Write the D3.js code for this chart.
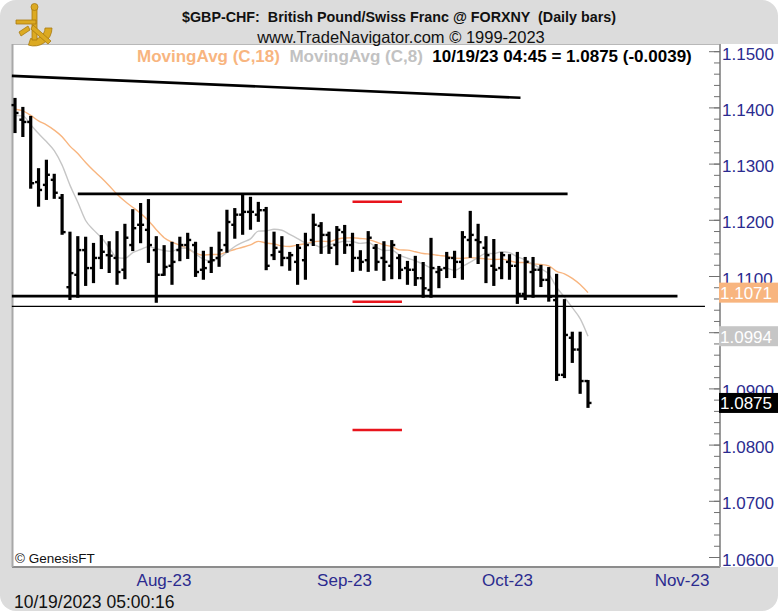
<!DOCTYPE html>
<html lang="en">
<head>
  <meta charset="UTF-8">
  <title>GBP-CHF Daily bars</title>
  <style>
    body, html { margin: 0; padding: 0; background: #fff; }
    svg { display: block; font-family: "Liberation Sans", Arial, sans-serif; }
  </style>
</head>
<body>
  <svg id="svg" width="780" height="611"></svg>

  <script src="https://cdn.jsdelivr.net/npm/d3@7"></script>
  <script>
    // daily OHLC, first bar is 2023-07-10
    const firstDay = new Date(2023, 6, 10)
    const opens = [1.1405,1.1379,1.1375,1.1268,1.1263,1.1272,1.1240,1.1081,1.1103,1.1147,
      1.1115,1.1133,1.1138,1.1133,1.1112,1.1156,1.1192,1.1183,1.1147,1.1103,
      1.1119,1.1147,1.1156,1.1156,1.1112,1.1126,1.1133,1.1156,1.1192,1.1210,
      1.1215,1.1210,1.1218,1.1138,1.1144,1.1133,1.1126,1.1129,1.1165,1.1190,
      1.1174,1.1156,1.1179,1.1156,1.1133,1.1129,1.1151,1.1133,1.1119,1.1133,
      1.1115,1.1112,1.1097,1.1076,1.1108,1.1115,1.1133,1.1126,1.1165,1.1165,
      1.1151,1.1119,1.1115,1.1126,1.1119,1.1069,1.1108,1.1112,1.1094,1.1058,
      1.0925,1.0991,1.0970,1.0914]
    const highs = [1.1416,1.1400,1.1384,1.1291,1.1306,1.1281,1.1245,1.1178,1.1170,1.1169,
      1.1158,1.1172,1.1161,1.1179,1.1192,1.1218,1.1229,1.1236,1.1170,1.1154,
      1.1160,1.1169,1.1176,1.1160,1.1144,1.1151,1.1178,1.1217,1.1220,1.1245,
      1.1240,1.1231,1.1222,1.1178,1.1170,1.1142,1.1156,1.1176,1.1210,1.1195,
      1.1178,1.1188,1.1190,1.1176,1.1145,1.1179,1.1156,1.1161,1.1163,1.1138,
      1.1126,1.1135,1.1124,1.1167,1.1117,1.1142,1.1144,1.1179,1.1215,1.1192,
      1.1170,1.1165,1.1142,1.1138,1.1142,1.1133,1.1133,1.1119,1.1115,1.1103,
      1.1058,1.1000,1.1000,1.0914]
    const lows = [1.1357,1.1350,1.1258,1.1226,1.1238,1.1240,1.1176,1.1060,1.1064,1.1085,
      1.1090,1.1115,1.1108,1.1087,1.1097,1.1147,1.1161,1.1126,1.1055,1.1103,
      1.1087,1.1129,1.1133,1.1101,1.1096,1.1108,1.1119,1.1144,1.1169,1.1176,
      1.1185,1.1199,1.1113,1.1131,1.1120,1.1112,1.1087,1.1096,1.1156,1.1142,
      1.1142,1.1122,1.1142,1.1110,1.1112,1.1110,1.1112,1.1094,1.1097,1.1097,
      1.1087,1.1085,1.1064,1.1064,1.1081,1.1099,1.1099,1.1096,1.1135,1.1124,
      1.1090,1.1085,1.1097,1.1096,1.1053,1.1060,1.1064,1.1083,1.1057,1.0916,
      1.0921,1.0948,1.0893,1.0868]
    const closes = [1.1391,1.1375,1.1266,1.1254,1.1281,1.1249,1.1179,1.1106,1.1147,1.1115,
      1.1133,1.1144,1.1137,1.1108,1.1169,1.1186,1.1192,1.1156,1.1103,1.1117,
      1.1126,1.1156,1.1165,1.1108,1.1115,1.1129,1.1147,1.1197,1.1210,1.1215,
      1.1215,1.1218,1.1119,1.1151,1.1133,1.1138,1.1151,1.1156,1.1192,1.1174,
      1.1151,1.1183,1.1156,1.1133,1.1126,1.1169,1.1126,1.1126,1.1156,1.1112,
      1.1112,1.1097,1.1079,1.1115,1.1112,1.1133,1.1126,1.1170,1.1174,1.1161,
      1.1138,1.1112,1.1138,1.1119,1.1069,1.1126,1.1112,1.1094,1.1064,1.0925,
      1.0996,1.0970,1.0914,1.0875]
    // closes before the first visible bar (only feed the moving averages)
    const priorCloses = [1.1425,1.1410,1.1432,1.1405,1.1418,1.1392,1.1408,1.1385,1.1400,
      1.1390,1.1378,1.1392,1.1380,1.1395,1.1378,1.1386,1.1390]

    const maPeriods = [18, 8]
    const maColors = ['#f8b57f', '#c6c6c6']

    // drawn lines: bar index from/to, price from/to
    const trendLines = [
      { i0: -0.4, i1: 64.4, p0: 1.1457, p1: 1.1418, w: 2.6 },
      { i0: 8.0, i1: 70.4, p0: 1.1247, p1: 1.1247, w: 2.6 },
      { i0: -0.4, i1: 84.4, p0: 1.1065, p1: 1.1065, w: 2.6 },
      { i0: -0.4, i1: 87.9, p0: 1.1047, p1: 1.1047, w: 1.2 }
    ]
    const redMarks = [1.1233, 1.1055, 1.0827]
    const redSpan = [43.0, 49.3]

    const priceTicks = d3.range(1.06, 1.1501, 0.01)
    const stamp = '10/19/23 04:45'
    const printTime = '10/19/2023 05:00:16'

    const svg = d3.select('#svg')

    // frame
    svg.append('rect').attr('x', 0).attr('y', 0).attr('width', 778).attr('height', 611)
      .attr('rx', 16).attr('fill', '#dcdcdc')
    svg.append('rect').attr('x', 12).attr('y', 44).attr('width', 768).attr('height', 523)
      .attr('fill', '#fff')
    svg.append('line').attr('x1', 12).attr('x2', 720).attr('y1', 44.5).attr('y2', 44.5)
      .attr('stroke', '#b8b8b8')
    svg.append('line').attr('x1', 12).attr('x2', 720).attr('y1', 567).attr('y2', 567)
      .attr('stroke', '#8c8c8c').attr('stroke-width', 2)
    svg.append('line').attr('x1', 12.5).attr('x2', 12.5).attr('y1', 44).attr('y2', 567)
      .attr('stroke', '#a8a8a8').attr('stroke-width', 2)

    const x = d3.scaleLinear().domain([0, 73]).range([15, 588])
    const y = d3.scaleLinear().domain([1.06, 1.15]).range([557.5, 51.7])
    const fmt = v => v.toFixed(4)

    // dates: weekdays from first bar, month starts on the axis
    const days = d3.timeDay.range(firstDay, new Date(2023, 10, 10)).filter(d => d.getDay() % 6 !== 0)
    const monthStarts = days.map((d, i) => ({ d, i }))
      .filter((o, k) => k > 0 && o.d.getMonth() !== days[k - 1].getMonth())

    svg.append('g')
      .selectAll('text')
      .data(monthStarts)
      .enter()
      .append('text')
      .attr('x', o => x(o.i) - 4)
      .attr('y', 586)
      .attr('fill', '#2b2b8f')
      .attr('font-size', 17)
      .text(o => d3.timeFormat('%b-%y')(o.d))

    // right price axis
    const axisG = svg.append('g')
    axisG.append('line').attr('x1', 720).attr('x2', 720).attr('y1', 44).attr('y2', 567)
      .attr('stroke', '#9a9a9a').attr('stroke-width', 2)
    axisG.selectAll('line.minor')
      .data(d3.range(1.06, 1.1501, 0.002))
      .enter()
      .append('line')
      .attr('class', 'minor')
      .attr('x1', 714).attr('x2', 720)
      .attr('y1', d => y(d)).attr('y2', d => y(d))
      .attr('stroke', '#707070')
    axisG.selectAll('line.major')
      .data(priceTicks)
      .enter()
      .append('line')
      .attr('class', 'major')
      .attr('x1', 709).attr('x2', 720)
      .attr('y1', d => y(d)).attr('y2', d => y(d))
      .attr('stroke', '#707070')
    axisG.selectAll('text')
      .data(priceTicks)
      .enter()
      .append('text')
      .attr('x', 722)
      .attr('y', d => y(d) + 8)
      .attr('fill', '#2b2b8f')
      .attr('font-size', 17)
      .text(fmt)

    const plot = svg.append('g')

    // moving averages
    const allCloses = priorCloses.concat(closes)
    const np = priorCloses.length
    const maLast = []
    maPeriods.forEach((n, k) => {
      const ma = closes.map((c, i) => d3.mean(allCloses.slice(Math.max(0, np + i - n + 1), np + i + 1)))
      plot.append('path')
        .datum(ma)
        .attr('fill', 'none')
        .attr('stroke', maColors[k])
        .attr('stroke-width', 1.4)
        .attr('d', d3.line().x((d, i) => x(i)).y(d => y(d)).curve(d3.curveMonotoneX))
      maLast.push(ma[ma.length - 1])
    })

    // support / resistance lines
    plot.selectAll('line.trend')
      .data(trendLines)
      .enter()
      .append('line')
      .attr('class', 'trend')
      .attr('x1', d => x(d.i0)).attr('x2', d => x(d.i1))
      .attr('y1', d => y(d.p0)).attr('y2', d => y(d.p1))
      .attr('stroke', '#000')
      .attr('stroke-width', d => d.w)

    plot.selectAll('line.red')
      .data(redMarks)
      .enter()
      .append('line')
      .attr('class', 'red')
      .attr('x1', x(redSpan[0])).attr('x2', x(redSpan[1]))
      .attr('y1', d => y(d)).attr('y2', d => y(d))
      .attr('stroke', '#e8141c')
      .attr('stroke-width', 2.4)

    // OHLC bars
    const bars = plot.selectAll('g.bar')
      .data(closes.map((c, i) => ({ i, o: opens[i], h: highs[i], l: lows[i], c })))
      .enter()
      .append('g')
      .attr('class', 'bar')
    bars.append('line')
      .attr('x1', d => x(d.i)).attr('x2', d => x(d.i))
      .attr('y1', d => y(d.h) - 1).attr('y2', d => y(d.l) + 1)
      .attr('stroke', '#000').attr('stroke-width', 3.2)
    bars.append('line')
      .attr('x1', d => x(d.i) - 3.5).attr('x2', d => x(d.i))
      .attr('y1', d => y(d.o)).attr('y2', d => y(d.o))
      .attr('stroke', '#000').attr('stroke-width', 2.4)
    bars.append('line')
      .attr('x1', d => x(d.i)).attr('x2', d => x(d.i) + 3.5)
      .attr('y1', d => y(d.c)).attr('y2', d => y(d.c))
      .attr('stroke', '#000').attr('stroke-width', 2.4)

    // value boxes on the price axis
    const last = closes[closes.length - 1]
    const boxes = [
      { v: maLast[0], fill: maColors[0] },
      { v: maLast[1], fill: maColors[1] },
      { v: last, fill: '#000' }
    ]
    const boxG = svg.append('g')
    boxG.selectAll('rect')
      .data(boxes)
      .enter()
      .append('rect')
      .attr('x', 719).attr('y', d => y(d.v) - 10)
      .attr('width', 59).attr('height', 20)
      .attr('fill', d => d.fill)
    boxG.selectAll('text')
      .data(boxes)
      .enter()
      .append('text')
      .attr('x', 720).attr('y', d => y(d.v) + 6.5)
      .attr('fill', '#fff').attr('font-size', 17)
      .text(d => fmt(d.v))

    // header
    svg.append('text').attr('x', 399).attr('y', 22).attr('text-anchor', 'middle')
      .attr('font-size', 14.3).attr('font-weight', 'bold').attr('fill', '#111')
      .attr('xml:space', 'preserve')
      .text('$GBP-CHF:  British Pound/Swiss Franc @ FORXNY  (Daily bars)')
    svg.append('text').attr('x', 401).attr('y', 43).attr('text-anchor', 'middle')
      .attr('font-size', 16.5).attr('fill', '#111')
      .text('www.TradeNavigator.com \u00a9 1999-2023')

    const change = last - closes[closes.length - 2]
    const legend = svg.append('text').attr('x', 137).attr('y', 62)
      .attr('font-size', 17).attr('font-weight', 'bold').attr('xml:space', 'preserve')
    legend.append('tspan').attr('fill', maColors[0]).text(`MovingAvg (C,${maPeriods[0]})  `)
    legend.append('tspan').attr('fill', '#c2c2c2').text(`MovingAvg (C,${maPeriods[1]})  `)
    legend.append('tspan').attr('fill', '#000')
      .text(`${stamp} = ${fmt(last)} (${fmt(change)})`)

    svg.append('text').attr('x', 15).attr('y', 563).attr('font-size', 13.5).attr('fill', '#111')
      .text('\u00a9 GenesisFT')
    svg.append('text').attr('x', 14).attr('y', 608).attr('font-size', 17.5).attr('fill', '#111')
      .text(printTime)

    // sextant logo
    const logo = svg.append('g').attr('transform', 'translate(34,28)')
      .attr('fill', '#dcaa22').attr('stroke', '#a87a10').attr('stroke-width', 0.8)
    logo.append('path').attr('d', d3.arc()({ innerRadius: 11, outerRadius: 18, startAngle: Math.PI * 0.5, endAngle: Math.PI * 1.1 }))
    logo.append('path').attr('d', 'M-2,-20 L3,-20 L3,12 L-2,12 Z')
    logo.append('path').attr('d', 'M-18,-8 L2,-8 L2,-4 L-18,-4 Z')
    logo.append('path').attr('d', 'M-1,-3 L17,13 L14,16 L-3,1 Z')
    logo.append('circle').attr('cx', 0.5).attr('cy', -21).attr('r', 3.5)
    logo.append('path').attr('d', 'M-15,4 L-6,-2 L-4,2 L-13,8 Z')
  </script>
</body>
</html>
